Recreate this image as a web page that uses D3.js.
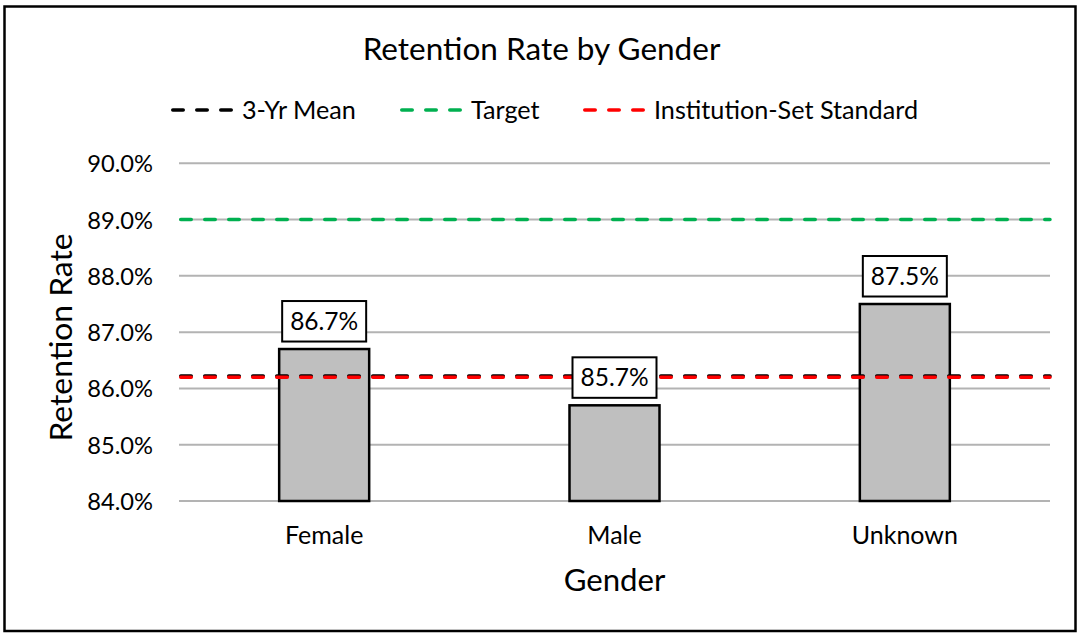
<!DOCTYPE html>
<html><head><meta charset="utf-8">
<script src="https://cdn.jsdelivr.net/npm/d3@7"></script>
<style>body{margin:0;background:#fff}</style>
</head><body>
<svg id="c" width="1078" height="633"></svg>
<script>
// ---- data ----
const categories = ["Female", "Male", "Unknown"];
const retention = [86.7, 85.7, 87.5];
const yTicks = [84, 85, 86, 87, 88, 89, 90];
const threeYrMean = 86.22;
const target = 89.0;
const institutionStandard = 86.2;
const refLines = [
  {name: "3-Yr Mean", value: threeYrMean, color: "#000000"},
  {name: "Target", value: target, color: "#00b050"},
  {name: "Institution-Set Standard", value: institutionStandard, color: "#ff0000"}
];

(function () {
// ---- layout ----
const FONT = "Lato";
const svg = d3.select("#c");
const pLeft = 179, pRight = 1050, pTop = 163.3, pBottom = 501;

svg.append("rect").attr("x", 4.5).attr("y", 6.5).attr("width", 1071).attr("height", 624.5)
  .attr("fill", "#fff").attr("stroke", "#000").attr("stroke-width", 2.5);

const x = d3.scaleBand().domain(categories).range([pLeft, pRight])
  .paddingInner(0.69).paddingOuter(0.345);
const y = d3.scaleLinear().domain([84, 90]).range([pBottom, pTop]);

// gridlines
svg.append("g").selectAll("line").data(yTicks).join("line")
  .attr("x1", pLeft).attr("x2", pRight)
  .attr("y1", d => y(d)).attr("y2", d => y(d))
  .attr("stroke", "#b3b3b3").attr("stroke-width", 2);

// y axis labels
const yAxis = svg.append("g").attr("transform", `translate(${pLeft},0)`)
  .call(d3.axisLeft(y).tickValues(yTicks).tickFormat(d => d.toFixed(1) + "%").tickSize(0).tickPadding(26));
yAxis.select(".domain").remove();
yAxis.selectAll("text").attr("font-family", FONT).attr("font-size", 23.7).attr("fill", "#000").attr("dy", "0.36em");

// x axis labels
const xAxis = svg.append("g").attr("transform", `translate(0,${pBottom})`)
  .call(d3.axisBottom(x).tickSize(0).tickPadding(25));
xAxis.select(".domain").remove();
xAxis.selectAll("text").attr("font-family", FONT).attr("font-size", 25).attr("fill", "#000");

// bars
const idx = d3.range(categories.length);
svg.append("g").selectAll("rect").data(idx).join("rect")
  .attr("x", i => x(categories[i]))
  .attr("width", x.bandwidth())
  .attr("y", i => y(retention[i]))
  .attr("height", i => y(84) - y(retention[i]))
  .attr("fill", "#bfbfbf").attr("stroke", "#000").attr("stroke-width", 2.5);

// reference lines
const dash = "10.5,13.5";
svg.append("g").selectAll("line").data(refLines).join("line")
  .attr("x1", pLeft + 1.75).attr("x2", pRight)
  .attr("y1", d => y(d.value)).attr("y2", d => y(d.value))
  .attr("stroke", d => d.color).attr("stroke-width", 3.5)
  .attr("stroke-dasharray", dash).attr("stroke-linecap", "round");

// data labels
const lab = svg.append("g").selectAll("g").data(idx).join("g");
lab.each(function(i) {
  const g = d3.select(this);
  const cx = x(categories[i]) + x.bandwidth() / 2;
  const by = y(retention[i]) - 7.5;
  const bw = 84, bh = 40.5;
  g.append("rect").attr("x", cx - bw / 2).attr("y", by - bh).attr("width", bw).attr("height", bh)
    .attr("fill", "#fff").attr("stroke", "#000").attr("stroke-width", 2);
  g.append("text").attr("x", cx).attr("y", by - 12).attr("text-anchor", "middle")
    .attr("font-family", FONT).attr("font-size", 24.5).attr("fill", "#000")
    .text(retention[i].toFixed(1) + "%");
});

// title
svg.append("text").attr("x", 541.5).attr("y", 60).attr("text-anchor", "middle")
  .attr("font-family", FONT).attr("font-size", 31.5).attr("fill", "#000")
  .text("Retention Rate by Gender");

// axis titles
svg.append("text").attr("x", 614.5).attr("y", 591).attr("text-anchor", "middle")
  .attr("font-family", FONT).attr("font-size", 31.2).attr("fill", "#000").text("Gender");
svg.append("text").attr("transform", "translate(71.5,337.5) rotate(-90)").attr("text-anchor", "middle")
  .attr("font-family", FONT).attr("font-size", 31.8).attr("fill", "#000").text("Retention Rate");

// legend
const legendX = [171, 400, 583];
const leg = svg.append("g").selectAll("g").data(refLines).join("g")
  .attr("transform", (d, i) => `translate(${legendX[i]},110)`);
leg.append("line").attr("x1", 1.75).attr("x2", 62).attr("y1", 0).attr("y2", 0)
  .attr("stroke", d => d.color).attr("stroke-width", 3.5)
  .attr("stroke-dasharray", dash).attr("stroke-linecap", "round");
leg.append("text").attr("x", 71).attr("y", 8.5)
  .attr("font-family", FONT).attr("font-size", 25.2).attr("fill", "#000")
  .text(d => d.name);
})();
</script>
</body></html>
